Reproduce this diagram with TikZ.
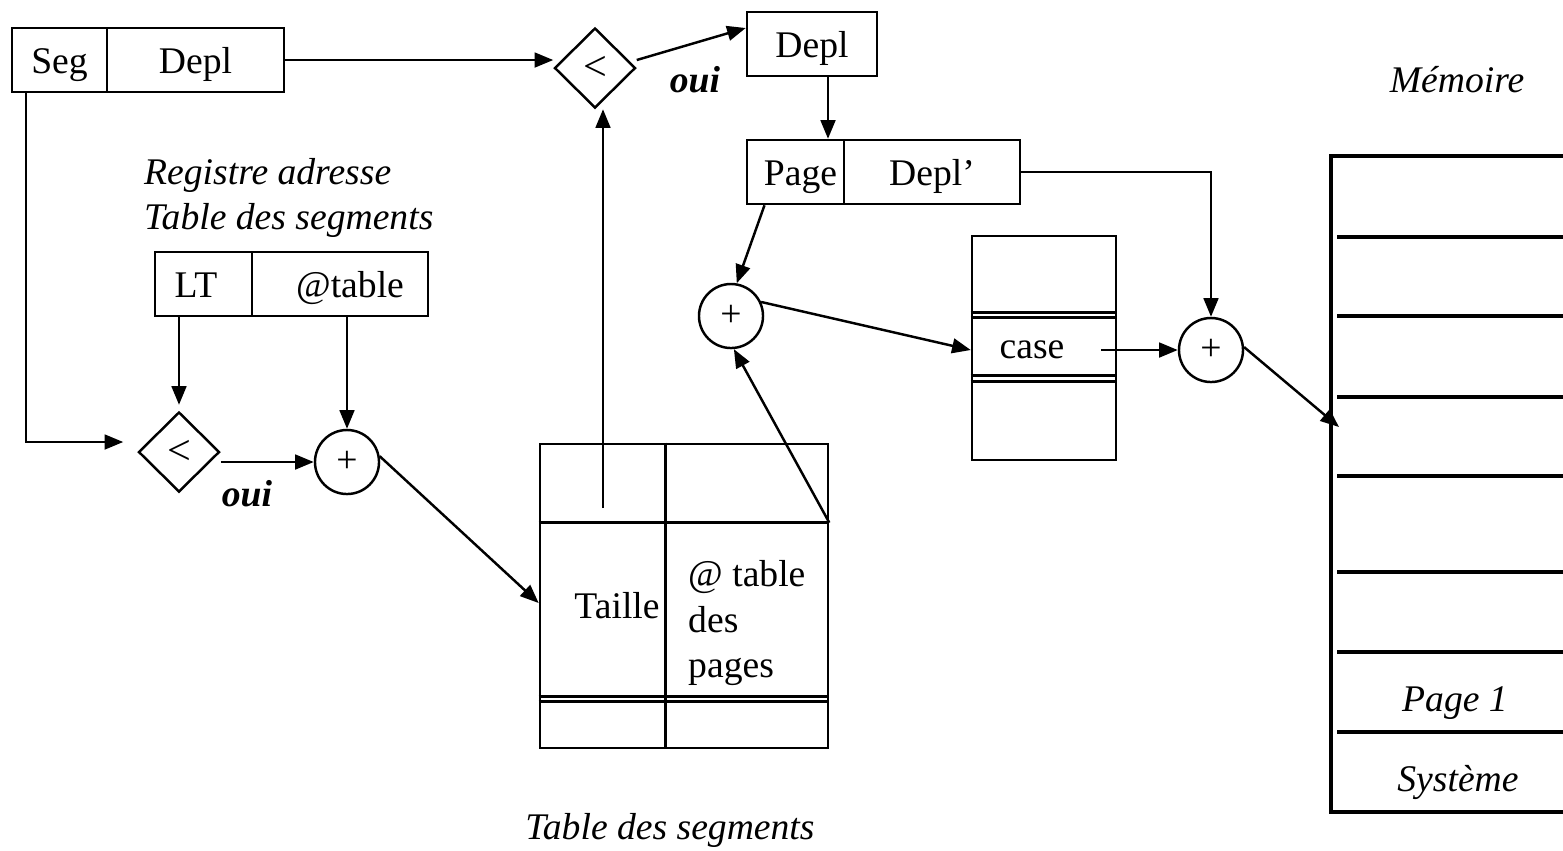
\documentclass[tikz,border=0pt]{standalone}
\usepackage{fontspec}
\setmainfont{Liberation Serif}
\usetikzlibrary{positioning,shapes.geometric,arrows.meta,calc}

\begin{document}
\begin{tikzpicture}[x=0.01cm,y=-0.01cm,
        font=\fontsize{10.7}{12.6}\selectfont,
        line width=0.7pt,
        cell/.style={draw, minimum height=0.64cm, inner sep=0pt, text height=0.75em, text depth=0pt},
        cmp/.style={diamond, draw, minimum width=0.81cm, minimum height=0.8cm, inner sep=0pt, font=\fontsize{12}{14}\selectfont},
        add/.style={circle, draw, minimum size=0.64cm, inner sep=0pt},
        arr/.style={-{Triangle[length=5.3pt,width=4.2pt]}},
        lbl/.style={font=\fontsize{10.7}{12.6}\selectfont\itshape, inner sep=0pt},
        yes/.style={font=\fontsize{10.7}{12.6}\selectfont\bfseries\itshape},
        mem/.style={line width=0.9pt}
    ]
    \useasboundingbox (0,0) rectangle (1563,850);

    % Adresse virtuelle
    \node[cell, minimum width=0.95cm] (seg) at (59.5,60) {Seg};
    \node[cell, minimum width=1.77cm] (depl) at (195.5,60) {Depl};

    % Registre adresse table des segments
    \node[lbl, align=left, anchor=west] (regtxt) at (143,198) {Registre adresse\\Table des segments};
    \node[cell, minimum width=0.97cm] (lt) at (203.5,284) {\hspace*{-0.15cm}LT};
    \node[cell, minimum width=1.76cm] (tab) at (340,284) {\hspace*{0.2cm}@table};

    % Controle et addition
    \node[cmp] (cmpB) at (179,452) {<};
    \node[add] (addA) at (347,462) {+};
    \node[yes] (ouiB) at (247,494) {oui};

    % Table des segments
    \node[draw, minimum width=2.88cm, minimum height=3.04cm, inner sep=0pt] (segtab) at (684,596) {};
    \draw (segtab.north west) ++(127,0) -- ++(0,304);
    \draw (segtab.north west) ++(0,80) -- ++(288,0);
    \draw (segtab.north west) ++(0,254) -- ++(288,0);
    \draw (segtab.north west) ++(0,259) -- ++(288,0);
    \node (taille) at (617,606) {Taille};
    \node[align=left, anchor=north west, inner sep=0pt, font=\fontsize{10.7}{13}\selectfont] (ptab) at (687,559) {@ table\\des\\pages};
    \node[lbl] (segcap) at (670,830) {Table des segments};

    % Controle du deplacement
    \node[cmp] (cmpA) at (595,68) {<};
    \node[yes] (ouiA) at (695,80) {oui};
    \node[cell, minimum width=1.30cm] (deplB) at (812,44) {Depl};
    \node[cell, minimum width=0.97cm] (page) at (795.5,172) {\hspace*{0.1cm}Page};
    \node[cell, minimum width=1.76cm] (deplP) at (932,172) {Depl’};
    \node[add] (addB) at (731,316) {+};

    % Table des pages
    \node[draw, minimum width=1.44cm, minimum height=2.24cm, inner sep=0pt] (pgtab) at (1044,348) {};
    \foreach \y in {78,83,141,147}
        \draw (pgtab.north west) ++(0,\y) -- ++(144,0);
    \node (caseA) at (1032,350) {case};
    \node[add] (addC) at (1211,350) {+};

    % Memoire
    \node[lbl] (memtxt) at (1457,80) {Mémoire};
    \draw[mem] (1563,156) -- (1331,156) -- (1331,812) -- (1563,812);
    \foreach \y in {237,316,397,476,572,652,732}
        \draw[mem] (1337,\y) -- (1563,\y);
    \node[lbl] (pg1) at (1455,703) {Page 1};
    \node[lbl] (sys) at (1458,782) {Système};
    \coordinate (memin) at (1339,427);

    % Connexions
    \draw[arr] (depl.east) -- (depl.east -| cmpA.west);
    \draw[arr] ([yshift=0.08cm]cmpA.east) -- ([yshift=0.16cm]deplB.west);
    \draw[arr] ([xshift=0.16cm]deplB.south) -- ([xshift=0.16cm]deplB.south |- page.north);
    \draw[arr] (deplP.east) -| (addC.north);
    \draw[arr] ([xshift=-0.31cm]page.south) -- (addB.80);
    \draw[arr] (addB.25) -- (caseA.west -| pgtab.west);
    \draw[arr] ([xshift=0.24cm]caseA.east) -- (caseA.east -| addC.west);
    \draw[arr] (addC.5) -- (memin);

    \draw[arr] ([xshift=0.15cm]seg.south west) |- ([xshift=-0.14cm,yshift=0.1cm]cmpB.west);
    \draw[arr] (lt.south -| cmpB.north) -- ([yshift=0.06cm]cmpB.north);
    \draw[arr] (tab.south -| addA.north) -- (addA.north);
    \draw[arr] (cmpB.east |- addA.west) -- (addA.west);
    \draw[arr] (addA.10) -- ([yshift=-0.07cm]segtab.west);

    \coordinate (segtop) at (603,508);
    \coordinate (rowend) at ($(segtab.north east)+(0,80)$);
    \draw[arr] (segtop) -- (segtop |- cmpA.south);
    \draw[arr] (rowend) -- (addB.-85);

\end{tikzpicture}
\end{document}
